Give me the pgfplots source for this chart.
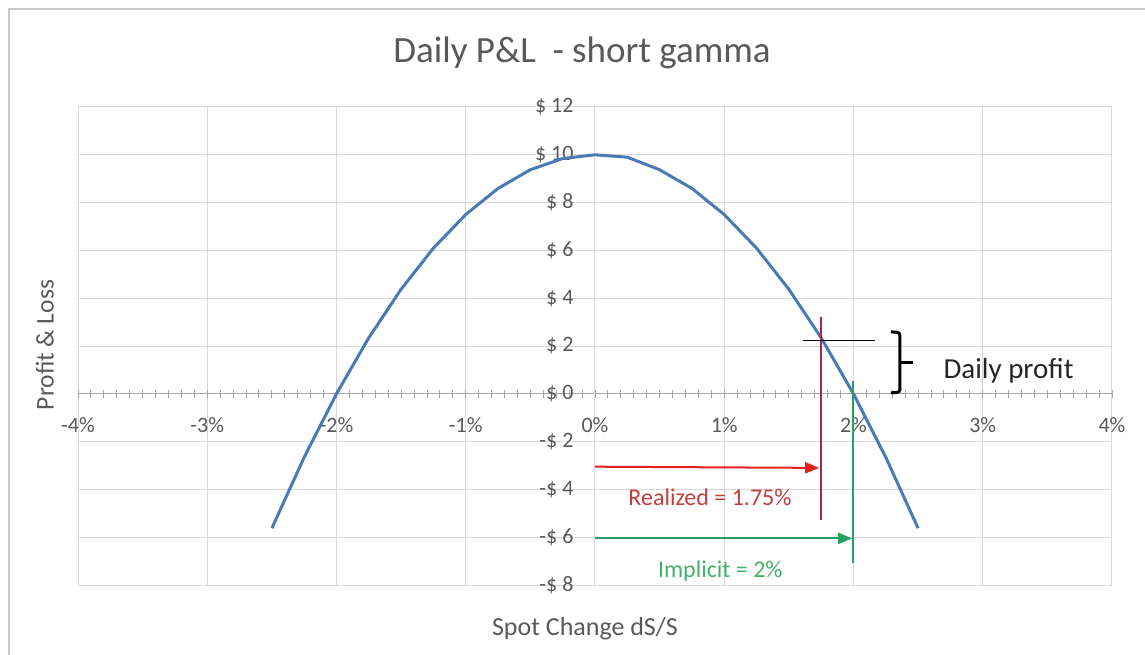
\documentclass[border=0pt]{standalone}
\usepackage{fontspec}
\setmainfont{Carlito}
\usepackage{pgfplots}
\pgfplotsset{compat=1.18}
\usetikzlibrary{arrows.meta}
\definecolor{txt}{RGB}{89,89,89}
\definecolor{gridc}{RGB}{217,217,217}
\definecolor{axc}{RGB}{165,165,165}
\definecolor{curve}{RGB}{74,122,180}
\definecolor{redarrow}{RGB}{230,30,30}
\definecolor{redline}{RGB}{168,40,80}
\definecolor{redtext}{RGB}{196,62,62}
\definecolor{greenline}{RGB}{40,160,95}
\definecolor{greentext}{RGB}{70,175,105}
\begin{document}
\begin{tikzpicture}[x=1pt,y=1pt]
\useasboundingbox (0,0) rectangle (1145,654);
\draw[gridc!80!gray, line width=1.5pt] (9,-5) -- (9,645) -- (1150,645);
\begin{axis}[
  at={(78pt,69pt)}, anchor=south west,
  scale only axis, width=1034pt, height=478pt,
  xmin=-4, xmax=4, ymin=-8, ymax=12,
  axis x line=middle, axis y line=middle,
  axis line style={-},
  x axis line style={axc, line width=1pt},
  y axis line style={gridc, line width=1pt},
  hide obscured x ticks=false, hide obscured y ticks=false,
  clip=false,
  xtick={-4,-3,...,4},
  xticklabels={-4\%,-3\%,-2\%,-1\%,0\%,1\%,2\%,3\%,4\%},
  ytick={-8,-6,...,12},
  yticklabels={-\$ 8,-\$ 6,-\$ 4,-\$ 2,\$ 0,\$ 2,\$ 4,\$ 6,\$ 8,\$ 10,\$ 12},
  minor x tick num=9,
  grid=major,
  major grid style={gridc, line width=1pt},
  tick align=center,
  major tick length=8pt, minor tick length=8pt,
  xtick style={axc, line width=0.9pt},
  minor x tick style={axc, line width=0.9pt},
  ytick style={draw=none},
  ticklabel style={font=\fontsize{22}{25}\selectfont, text=txt},
  xticklabel style={anchor=north, yshift=-16pt},
  yticklabel style={anchor=east, xshift=-14pt},
]
\addplot[curve, line width=3pt, line join=round] coordinates {
(-2.5,-5.625) (-2.25,-2.656) (-2,0) (-1.75,2.344) (-1.5,4.375) (-1.25,6.094)
(-1,7.5) (-0.75,8.594) (-0.5,9.375) (-0.25,9.844) (0,10) (0.25,9.9)
(0.5,9.375) (0.75,8.594) (1,7.5) (1.25,6.094) (1.5,4.375) (1.75,2.344)
(2,0) (2.25,-2.656) (2.5,-5.625)};
% annotations
\addplot[redline, line width=2pt] coordinates {(1.75,3.2) (1.75,-5.3)};
\addplot[greenline, line width=2pt] coordinates {(2.0,0.55) (2.0,-7.07)};
\addplot[redarrow, line width=2pt, -{Triangle[length=14pt,width=11pt]}] coordinates {(0,-3.05) (1.735,-3.1)};
\addplot[greenline, line width=2pt, -{Triangle[length=14pt,width=11pt]}] coordinates {(0,-6.05) (1.99,-6.05)};
\addplot[black, line width=1.5pt] coordinates {(1.61,2.22) (2.17,2.22)};
\addplot[black, line width=3pt, rounded corners=3pt] coordinates {(2.29,2.59) (2.36,2.57) (2.36,0.06) (2.29,0.04)};
\addplot[black, line width=3pt] coordinates {(2.36,1.30) (2.46,1.30)};
\node[text=redtext, font=\fontsize{24}{27}\selectfont] at (axis cs:0.89,-4.31) {Realized = 1.75\%};
\node[text=greentext, font=\fontsize{24}{27}\selectfont] at (axis cs:0.97,-7.4) {Implicit = 2\%};
\node[text=black!85, font=\fontsize{29}{32}\selectfont] at (axis cs:3.2,0.96) {Daily profit};
\end{axis}
\node[text=txt, font=\fontsize{37}{41}\selectfont] at (582,601) {Daily P\&L\ \ - short gamma};
\node[text=txt, font=\fontsize{25.5}{28}\selectfont, rotate=90] at (45,309) {Profit \& Loss};
\node[text=txt, font=\fontsize{26}{29}\selectfont] at (585,25) {Spot Change dS/S};
\end{tikzpicture}
\end{document}
